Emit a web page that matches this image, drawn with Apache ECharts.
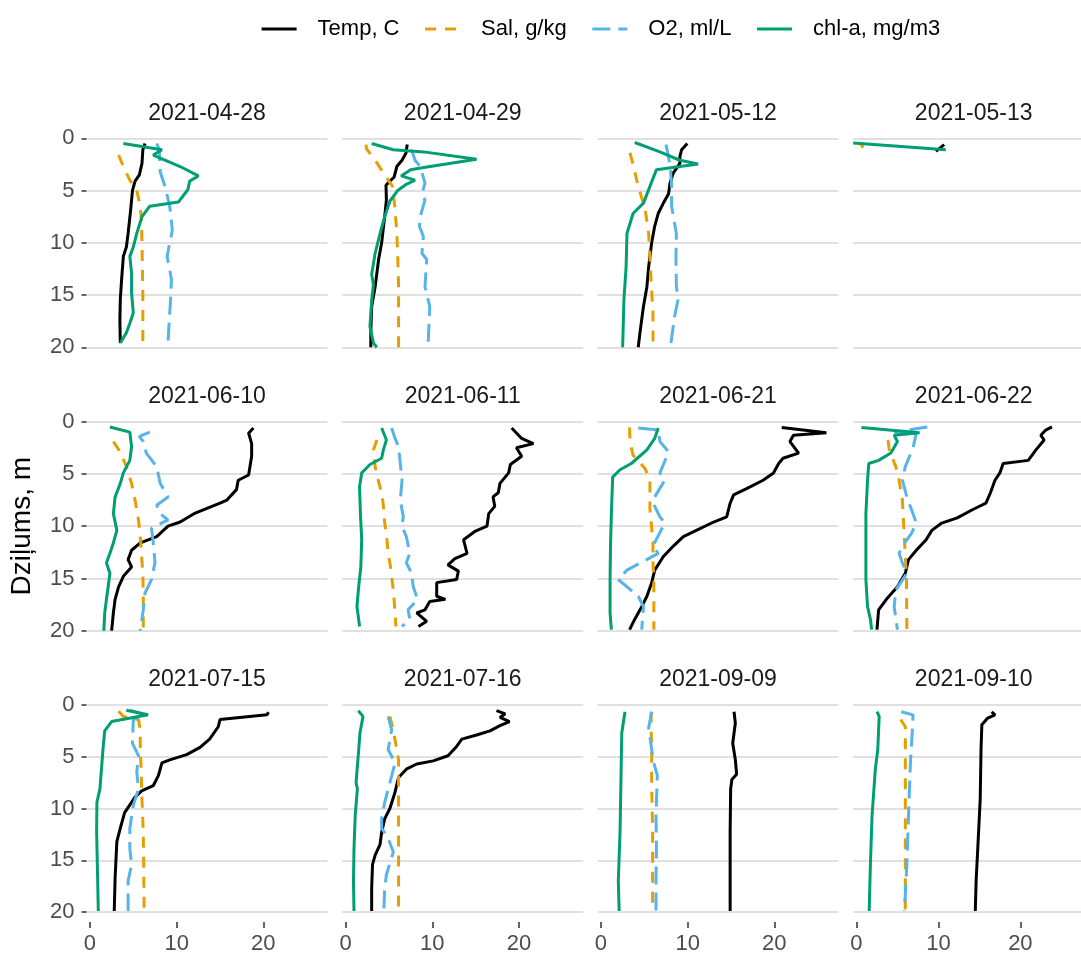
<!DOCTYPE html>
<html><head><meta charset="utf-8">
<script src="https://cdn.jsdelivr.net/npm/echarts@6/dist/echarts.min.js"></script>
<style>html,body{margin:0;padding:0;background:#fff}#c{width:1081px;height:955px}</style>
</head><body><div id="c"></div>
<script>
// ---- data: each profile is a list of [value, depth] ----
const dates = ['2021-04-28','2021-04-29','2021-05-12','2021-05-13',
               '2021-06-10','2021-06-11','2021-06-21','2021-06-22',
               '2021-07-15','2021-07-16','2021-09-09','2021-09-10'];
const seriesNames = ['Temp, C','Sal, g/kg','O2, ml/L','chl-a, mg/m3'];
const xTicks = [0, 10, 20];

const tempProfiles = [
  [[6.35,0.5],[6.1,1.1],[6.0,2.4],[5.7,3.5],[5.2,4.1],[4.9,5.0],[4.7,6.8],[4.4,9.1],[4.2,10.4],[3.85,11.3],[3.65,13.5],[3.5,15.4],[3.45,17.4],[3.5,19.6]],
  [[7.1,0.6],[6.96,1.4],[6.5,2.1],[5.9,2.7],[5.6,3.7],[5.1,4.1],[4.65,4.5],[4.7,5.9],[4.5,7.5],[4.15,10],[3.8,11.6],[3.4,14.2],[3.0,16.1],[2.9,18.6],[2.9,20]],
  [[9.96,0.5],[9.3,1.1],[9.1,1.75],[9.1,2.4],[8.35,3.3],[7.96,4.3],[7.8,5.3],[7.2,6.2],[6.6,7.2],[6.2,8.4],[5.85,10],[5.5,12.3],[5.3,14.2],[4.9,16.1],[4.5,18.6],[4.3,20]],
  [[9.7,1.25],[10.7,0.6]],
  [[18.85,0.6],[18.3,1.1],[18.65,2.1],[18.65,3.3],[18.3,5.1],[17.1,5.6],[16.9,6.5],[15.8,7.5],[15.0,7.8],[13.5,8.3],[12.0,8.8],[10.4,9.6],[9.0,10.0],[7.7,11.0],[5.8,11.6],[4.8,12.3],[4.4,13.2],[4.8,13.9],[3.85,14.8],[3.3,15.8],[2.9,17.0],[2.7,18.3],[2.5,20]],
  [[19.15,0.6],[20.3,1.6],[21.65,2.1],[19.7,2.5],[20.3,3.3],[19.0,4.1],[18.8,4.9],[17.8,5.9],[17.6,6.8],[17.0,7.2],[17.2,8.1],[16.5,8.8],[16.3,10.0],[14.9,10.5],[13.6,11.3],[14.0,12.6],[12.6,13.1],[11.8,13.7],[13.0,14.3],[12.8,15.1],[10.5,15.4],[10.5,16.7],[11.5,17.0],[9.7,17.2],[9.15,18.0],[8.2,18.3],[9.35,19.1],[8.4,19.6]],
  [[20.85,0.55],[26.0,1.05],[22.2,1.3],[21.8,1.9],[22.8,3.0],[21.0,3.5],[20.5,4.0],[19.9,4.9],[18.7,5.6],[16.8,6.4],[15.3,7.0],[14.9,7.8],[14.5,9.1],[13.0,9.6],[11.0,10.4],[9.5,11.0],[8.35,11.9],[7.2,12.9],[6.2,14.2],[5.85,15.4],[5.3,16.7],[4.7,17.7],[3.9,18.9],[3.3,19.9]],
  [[23.85,0.5],[23.1,0.8],[22.5,1.3],[22.9,1.75],[21.9,2.7],[20.96,3.7],[17.9,4.0],[17.5,4.9],[16.9,5.6],[16.35,6.8],[15.8,7.8],[14.2,8.4],[12.3,9.2],[10.4,9.7],[9.2,10.4],[8.5,11.3],[7.3,12.3],[6.35,13.2],[5.96,14.5],[5.0,15.8],[3.65,17.0],[2.7,18.0],[2.5,19.9]],
  [[20.6,0.7],[20.4,0.95],[15.0,1.4],[14.8,2.1],[13.8,3.3],[12.7,4.1],[11.15,4.8],[9.2,5.3],[8.3,5.6],[7.9,6.8],[7.3,7.8],[5.96,8.3],[5.2,8.9],[4.0,10.4],[3.5,11.9],[3.1,13.2],[2.9,16.7],[2.8,19.9]],
  [[17.4,0.55],[18.4,0.85],[17.8,1.2],[18.9,1.6],[17.8,2.0],[16.65,2.5],[15.1,2.9],[13.4,3.3],[12.8,4.0],[11.8,4.9],[10.1,5.4],[8.2,5.7],[7.0,6.2],[6.1,7.0],[5.7,8.4],[5.1,10.0],[4.5,11.0],[4.15,12.3],[3.96,13.5],[3.4,14.5],[3.1,15.4],[3.0,17.7],[3.0,19.9]],
  [[15.35,0.65],[15.5,1.75],[15.2,3.7],[15.5,5.3],[15.65,6.7],[15.1,7.2],[14.96,8.1],[14.9,12.3],[14.9,16.4],[14.9,19.9]],
  [[16.5,0.65],[16.9,0.95],[15.96,1.3],[15.3,1.9],[15.2,4.3],[15.1,9.1],[14.8,13.9],[14.6,17.0],[14.5,19.9]]
];

const salProfiles = [
  [[3.3,1.6],[3.9,2.8],[4.6,4.0],[5.4,5.0],[5.8,6.5],[5.95,8],[6.0,10],[6.1,15],[6.1,19.6]],
  [[2.35,0.6],[2.4,1.0],[3.4,2.1],[4.35,3.3],[5.4,4.6],[5.7,6.8],[5.9,9.1],[6.0,11],[6.1,14],[6.1,20]],
  [[3.35,1.4],[3.7,2.5],[4.3,4.6],[5.1,6.8],[5.5,9.1],[5.65,11.3],[5.8,13.9],[6.0,16.7],[6.0,20]],
  [[0.5,0.5],[0.8,0.9]],
  [[2.7,1.9],[3.5,2.9],[4.2,4.3],[4.8,5.9],[5.2,7.5],[5.6,9.4],[5.8,11.0],[5.96,12.9],[6.1,14.5],[6.15,16.4],[6.15,20]],
  [[3.6,1.75],[3.2,2.7],[3.4,4.3],[3.6,5.1],[4.2,7.0],[4.35,8.1],[4.5,9.7],[4.7,10.7],[4.9,12.6],[5.1,13.5],[5.3,14.8],[5.5,16.1],[5.7,18.3],[5.8,19.6]],
  [[3.3,0.55],[3.35,1.9],[3.7,3.2],[5.1,4.5],[5.65,5.6],[5.65,7.3],[5.65,8.4],[5.85,10.2],[6.0,11.6],[6.0,13.4],[6.1,15.1],[6.1,17.7],[6.1,19.9]],
  [[3.85,1.75],[4.0,2.7],[4.8,4.3],[5.2,5.6],[5.6,7.5],[5.8,10.4],[5.96,12.9],[6.1,15.1],[6.15,19.9]],
  [[3.3,0.6],[3.85,1.1],[5.6,1.4],[5.8,2.4],[5.8,4.0],[5.9,6.2],[6.0,9.1],[6.15,12.3],[6.2,15.4],[6.25,19.9]],
  [[5.1,1.1],[5.5,2.5],[5.9,4.3],[6.1,5.3],[6.1,8.1],[6.1,10.7],[6.1,13.9],[6.1,19.9]],
  [[5.8,0.65],[5.77,2.1],[5.85,4],[5.85,8],[5.96,12],[5.96,16],[5.96,19.9]],
  [[5.4,1.4],[5.96,2.1],[5.96,7.5],[5.96,13],[5.96,19.9]]
];

const o2Profiles = [
  [[7.7,0.5],[8.0,1.1],[8.1,3.2],[8.65,4.6],[9.2,6.5],[9.5,8.8],[9.2,10],[8.9,11.3],[9.2,12.6],[9.4,13.5],[9.3,15.4],[9.15,17.4],[9.0,19.6]],
  [[7.6,1.1],[8.0,2.1],[8.6,2.7],[9.15,4.3],[8.8,5.3],[9.15,5.9],[8.6,7.5],[8.5,8.4],[8.96,9.4],[8.8,11],[9.35,11.6],[9.15,14.2],[9.7,16.1],[9.6,18],[9.5,20]],
  [[7.5,0.6],[7.7,1.4],[8.0,2.7],[8.15,4.6],[8.15,6.5],[8.35,7.5],[8.7,9.1],[8.65,11.3],[8.7,14.2],[8.9,15.4],[8.5,17],[8.0,20]],
  [],
  [[6.9,1.0],[5.7,1.4],[6.15,1.9],[6.5,3.0],[7.7,4.3],[8.1,5.9],[9.0,7.2],[7.7,8.0],[8.1,8.8],[9.0,9.4],[7.1,10.2],[7.3,11.6],[7.5,13.5],[7.1,15.1],[6.35,16.4],[6.15,18],[5.8,20]],
  [[5.3,0.6],[5.7,1.6],[6.1,2.4],[6.3,4.0],[6.5,5.6],[6.3,7.5],[6.65,9.1],[6.5,10],[7.0,11],[7.4,12.6],[7.0,13.5],[7.6,14.5],[7.8,15.8],[8.3,17.0],[7.2,18],[7.4,18.9],[6.5,19.6]],
  [[4.3,0.6],[6.6,0.8],[6.8,1.9],[7.8,2.9],[6.8,4.9],[7.35,5.6],[6.2,7.2],[6.2,8.1],[6.8,9.1],[7.35,9.7],[6.0,11.9],[6.6,12.6],[3.0,14.2],[2.0,15.1],[4.3,16.7],[4.9,17.7],[4.7,19.9]],
  [[8.65,0.5],[4.6,1.0],[7.3,1.1],[6.9,2.5],[5.96,4.3],[5.6,5.6],[6.15,7.2],[6.9,8.8],[7.3,9.7],[6.7,10.7],[5.6,11.9],[5.2,12.6],[5.6,13.5],[6.15,14.5],[4.8,16.1],[4.6,17.7],[5.0,19.9]],
  [[4.6,0.5],[6.5,0.95],[5.0,1.4],[4.9,3.7],[5.6,4.9],[5.4,6.5],[5.6,8.1],[5.0,9.7],[4.6,11.9],[4.6,13.9],[4.8,15.4],[4.4,17.0],[4.4,19.9]],
  [[4.9,1.1],[5.3,2.4],[4.9,4.3],[5.7,5.6],[5.1,7.5],[4.5,9.4],[4.15,11.0],[4.15,11.9],[4.9,12.9],[5.5,14.2],[4.7,16.4],[4.5,17.7],[4.4,19.9]],
  [[5.85,0.65],[5.5,2.2],[5.85,4.3],[6.0,5.3],[6.5,6.8],[6.35,10.7],[6.4,13.9],[6.35,17.0],[6.35,19.9]],
  [[5.46,0.65],[6.9,0.95],[6.85,2.1],[6.6,5.3],[6.35,10.7],[6.15,15.4],[5.85,19.9]]
];

const chlProfiles = [
  [[3.85,0.5],[8.3,1.1],[7.3,1.6],[10.4,2.7],[12.5,3.6],[11.5,4.1],[11.3,4.9],[10.2,6.1],[6.9,6.5],[6.0,7.5],[5.4,9.1],[5.0,10.4],[4.6,11.3],[4.8,12.9],[4.8,14.8],[5.0,16.7],[4.6,17.7],[4.2,18.6],[3.5,19.6]],
  [[3.0,0.5],[5.5,1.1],[9.0,1.3],[15.1,2.0],[9.0,2.8],[7.5,3.0],[6.4,3.6],[8.0,4.0],[7.0,4.4],[6.0,5.0],[5.1,6.0],[4.5,7.5],[4.0,9.0],[3.4,11.0],[3.0,13.0],[3.2,14.0],[3.0,15.5],[2.8,18.0],[3.2,19.6],[3.6,20.0]],
  [[3.9,0.4],[6.8,1.3],[9.1,2.1],[11.2,2.45],[9.1,2.7],[6.4,3.0],[5.65,4.6],[4.9,6.2],[3.7,7.2],[3.0,9.1],[2.9,12.3],[2.65,15.4],[2.5,20]],
  [[-0.4,0.45],[10.9,1.1]],
  [[2.3,0.5],[4.6,1.0],[4.8,2.4],[4.6,3.7],[3.85,4.9],[3.5,5.9],[2.9,7.2],[2.7,8.8],[3.1,10.4],[2.7,11.6],[2.3,12.6],[1.9,13.5],[2.3,14.5],[2.1,15.8],[1.9,17.0],[1.7,18.3],[1.6,20]],
  [[4.15,0.6],[4.7,1.75],[4.35,2.7],[4.15,3.5],[2.8,4.1],[1.85,4.9],[1.6,6.2],[1.7,8.8],[1.85,11.3],[1.75,13.9],[1.5,15.8],[1.3,17.7],[1.5,18.9],[1.6,19.6]],
  [[6.6,0.6],[6.2,1.6],[5.3,2.7],[3.5,4.0],[2.2,4.6],[1.35,5.3],[1.2,8.8],[1.1,11.9],[1.05,15.1],[1.05,18.3],[1.2,19.9]],
  [[0.6,0.55],[7.7,1.05],[4.6,1.3],[5.0,1.9],[4.2,3.0],[2.7,3.7],[1.5,4.0],[1.35,5.6],[1.15,8.8],[1.15,11.9],[1.15,15.1],[1.35,17.7],[1.7,18.9],[1.85,19.9]],
  [[4.2,0.5],[6.7,0.95],[2.5,1.6],[1.7,2.5],[1.5,4.3],[1.15,8.1],[0.8,9.4],[0.77,12.3],[0.85,15.4],[0.96,19.9]],
  [[1.45,0.55],[2.0,1.1],[1.65,2.7],[1.45,4.9],[1.2,7.5],[1.35,8.1],[1.1,10.7],[0.96,13.9],[0.9,17.0],[0.96,19.9]],
  [[2.77,0.65],[2.4,2.7],[2.3,7.5],[2.2,12.3],[2.0,17.0],[2.1,19.9]],
  [[2.5,0.65],[2.77,1.1],[2.6,4.3],[2.3,6.2],[1.9,10.7],[1.7,15.4],[1.55,19.9]]
];

// ---- styling / layout ----
const profilesByVar = [tempProfiles, salProfiles, o2Profiles, chlProfiles];
const colors = ['#000000', '#E69F00', '#56B4E9', '#009E73'];
const dashes = ['solid', [11, 9], [18, 8], 'solid'];
const FONT = '"Liberation Sans", Arial, sans-serif';
const colLeft = [86.5, 342.2, 597.5, 853.2];
const rowTop = [138.3, 421.7, 705];
const W = 241, H = 209;

const grid = [], xAxis = [], yAxis = [], series = [], graphic = [];
dates.forEach((d, i) => {
  const r = Math.floor(i / 4), c = i % 4;
  grid.push({ left: colLeft[c], top: rowTop[r], width: W, height: H, containLabel: false });
  xAxis.push({
    type: 'value', gridIndex: i, min: -0.4, max: 27.4, offset: 10, position: 'bottom',
    axisLine: { show: false, onZero: false }, splitLine: { show: false },
    axisTick: { show: r === 2, customValues: xTicks, length: 6, lineStyle: { color: '#333', width: 1.5 } },
    axisLabel: { show: r === 2, customValues: xTicks, fontSize: 22, color: '#4d4d4d', margin: 11, fontFamily: FONT }
  });
  const y = {
    type: 'value', gridIndex: i, inverse: true, min: 0, max: 20, interval: 5, position: 'left',
    axisLine: { show: false, onZero: false },
    splitLine: { show: true, lineStyle: { color: '#d6d6d6', width: 1.6 } },
    axisTick: { show: c === 0, length: 5, lineStyle: { color: '#333', width: 1.5 } },
    axisLabel: { show: c === 0, fontSize: 22, color: '#4d4d4d', margin: 12, fontFamily: FONT }
  };
  if (i === 4) {
    y.name = 'Dziļums, m'; y.nameLocation = 'middle'; y.nameGap = 50; y.nameRotate = 90;
    y.nameTextStyle = { fontSize: 28, color: '#000', fontFamily: FONT };
  }
  yAxis.push(y);
  graphic.push({
    type: 'text', x: colLeft[c] + W / 2, y: rowTop[r] - 25,
    style: { text: d, align: 'center', verticalAlign: 'middle', fontSize: 23, fill: '#1a1a1a', fontFamily: FONT }
  });
  profilesByVar.forEach((prof, k) => {
    series.push({
      name: seriesNames[k], type: 'line', xAxisIndex: i, yAxisIndex: i,
      data: prof[i], symbol: 'none', showSymbol: false, smooth: false,
      lineStyle: { color: colors[k], width: 3, type: dashes[k] },
      itemStyle: { color: colors[k] }, z: 2 + k
    });
  });
});

const chart = echarts.init(document.getElementById('c'), null, { renderer: 'canvas' });
chart.setOption({
  animation: false,
  backgroundColor: '#ffffff',
  legend: {
    data: seriesNames, left: 255, top: 13, itemWidth: 35, itemHeight: 20, itemGap: 24,
    itemStyle: { opacity: 0, borderWidth: 0 },
    lineStyle: { width: 3.2 },
    textStyle: { fontSize: 22, color: '#000', fontFamily: FONT, padding: [0, 0, 0, 16] }
  },
  grid, xAxis, yAxis, series, graphic
});
</script></body></html>
